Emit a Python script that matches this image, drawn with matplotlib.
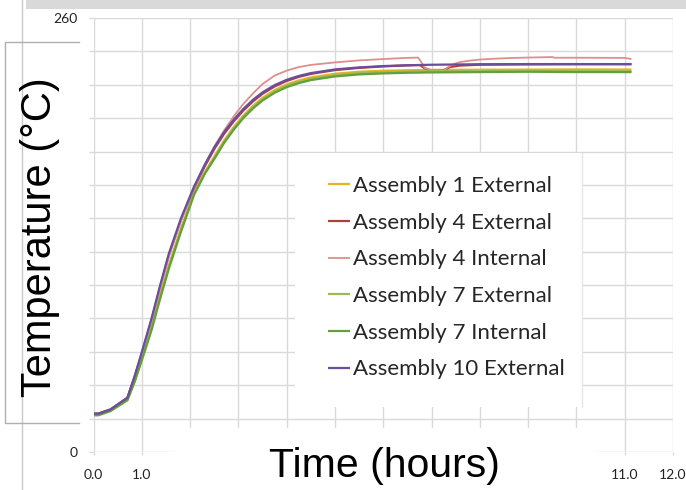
import matplotlib
matplotlib.use("Agg")
import matplotlib.pyplot as plt
from matplotlib.patches import Rectangle
from matplotlib.lines import Line2D
from matplotlib.transforms import Affine2D

W, H = 686, 490

# thermocouple readings, time in hours, temperature in deg C
t_rise = [0, 0.1, 0.35, 0.7, 0.85, 1.0, 1.2, 1.37, 1.56, 1.81, 2.08, 2.3, 2.5, 2.7, 2.9, 3.1,
          3.3, 3.5, 3.75, 4.0, 4.25, 4.5, 5.0, 5.5, 6.0, 6.5, 7.0, 8.0, 9.0, 10.0, 11.14]

temp_a1_ext = [22.5, 22.5, 25, 31.5, 43, 56.5, 75, 93, 112, 134, 155, 167.5, 177, 186.5, 194.5, 201.5,
               207.3, 212.2, 216.8, 220.2, 222.6, 224.4, 226.6, 227.8, 228.4, 228.7, 228.9, 229, 229.1, 229.2, 229.1]

temp_a7_ext = [22.3, 22.3, 24.8, 31.2, 42.5, 55.8, 74, 92, 111, 133, 154.5, 167, 176.3, 185.8, 193.8, 200.8,
               206.6, 211.4, 216, 219.4, 221.8, 223.6, 225.8, 227, 227.6, 227.9, 228.1, 228.2, 228.3, 228.2, 228.1]

temp_a7_int = [22, 22, 24.5, 31, 42, 55, 73, 91, 110, 132, 154, 166.5, 175.5, 185, 193, 200,
               205.8, 210.6, 215.2, 218.6, 221, 222.8, 225, 226.2, 226.8, 227.2, 227.4, 227.6, 227.8, 227.6, 227.6]

temp_a10_ext = [23, 23, 25.5, 32.5, 45.5, 60, 80, 99, 119, 140, 159, 172, 182.5, 191.5, 199, 205.5,
                211, 215.5, 219.8, 223, 225.3, 227, 229.2, 230.4, 231.2, 231.7, 232, 232.3, 232.4, 232.4, 232.4]

# assembly 4 readings show a dip at about 7 h
t_a4_ext = [0, 0.1, 0.35, 0.7, 0.85, 1.0, 1.2, 1.37, 1.56, 1.81, 2.08, 2.3, 2.5, 2.7, 2.9, 3.1,
            3.3, 3.5, 3.75, 4.0, 4.25, 4.5, 5.0, 5.5, 6.0, 6.5, 6.76, 6.85, 6.97, 7.1, 7.23, 7.3,
            7.38, 7.59, 8.0, 9.0, 10.0, 11.14]
temp_a4_ext = [23, 23, 25.5, 32.5, 45, 59, 79, 98, 118, 139, 158, 171, 181.5, 190.5, 198, 204.5,
               210, 214.6, 219, 222.3, 224.7, 226.5, 228.8, 230.1, 231, 231.6, 231.8, 230, 228.7, 228.4, 228.4, 229.5,
               230.6, 231.5, 232, 232.2, 232.3, 232.3]

t_a4_int = [0, 0.1, 0.35, 0.7, 0.85, 1.0, 1.2, 1.37, 1.56, 1.81, 2.08, 2.3, 2.5, 2.7, 2.9, 3.1,
            3.3, 3.5, 3.75, 4.0, 4.25, 4.5, 5.0, 5.5, 6.0, 6.4, 6.72, 6.8, 6.86, 7.0, 7.15, 7.25,
            7.34, 7.45, 7.59, 7.8, 8.0, 8.3, 8.6, 9.0, 9.5, 9.55, 10.0, 11.0, 11.14]
temp_a4_int = [23, 23, 25.5, 32.5, 44.5, 58.5, 78, 97, 117, 138.5, 158.5, 172, 183, 192.5, 201, 208.5,
               214.8, 220.5, 225.5, 228.5, 230.6, 231.9, 233.4, 234.6, 235.4, 236, 236.3, 233, 230, 228.9, 228.6, 228.6,
               230.5, 232.3, 233.6, 234.5, 235.1, 235.6, 236, 236.3, 236.6, 236.2, 236.2, 236.1, 235.4]

series = [
    ("Assembly 1 External", t_rise, temp_a1_ext, "#e6b21e", 1.6),
    ("Assembly 4 External", t_a4_ext, temp_a4_ext, "#b23f3c", 1.6),
    ("Assembly 4 Internal", t_a4_int, temp_a4_int, "#dd8f8c", 1.3),
    ("Assembly 7 External", t_rise, temp_a7_ext, "#9bbb59", 1.6),
    ("Assembly 7 Internal", t_rise, temp_a7_int, "#63a03c", 1.6),
    ("Assembly 10 External", t_rise, temp_a10_ext, "#6a4d9c", 1.6),
]

x_ticks = list(range(0, 13))
x_ticklabels = ["0.0", "1.0", "", "", "", "", "", "", "", "", "", "11.0", "12.0"]
y_ticks = list(range(0, 261, 20))
y_ticklabels = ["0"] + [""] * 12 + ["260"]

grid_col = "#d9d9d9"

fig = plt.figure(figsize=(W / 100, H / 100), dpi=100)
ax = fig.add_axes([93.6 / W, 1 - 452 / H, (673 - 93.6) / W, (452 - 18) / H])

for name, t, temp, col, lw in series:
    ax.plot(t, temp, color=col, lw=lw, label=name, solid_capstyle="butt")

ax.set_xlim(0, 12)
ax.set_ylim(0, 260)
ax.set_xticks(x_ticks)
ax.set_xticklabels(x_ticklabels)
ax.set_yticks(y_ticks)
ax.set_yticklabels(y_ticklabels)
ax.grid(True, color=grid_col, lw=1)
ax.set_axisbelow(True)
for s in ax.spines.values():
    s.set_visible(False)
ax.tick_params(axis="both", colors=grid_col, width=1, labelcolor="#222222", labelsize=10)
ax.tick_params(axis="y", length=3.6, pad=8)
ax.tick_params(axis="x", length=2.2, pad=10)
for lab in ax.get_xticklabels() + ax.get_yticklabels():
    lab.set_family("Lato")

# pixel coordinates, origin top-left
px = Affine2D().scale(1 / W, -1 / H).translate(0, 1) + fig.transFigure

# white box behind the legend
ax.add_patch(Rectangle((295, 152.7), 287, 254.3, transform=px, facecolor="white",
                       edgecolor="none", zorder=3, clip_on=False))
ax.add_line(Line2D([582, 582], [152.7, 407], transform=px, color="#e6e6e6", lw=1,
                   zorder=3, clip_on=False))

leg = ax.legend(loc="upper left", bbox_to_anchor=(328 / W, 1 - 176 / H),
                bbox_transform=fig.transFigure, frameon=False, borderpad=0,
                borderaxespad=0, handlelength=1.0, handletextpad=0.12,
                labelspacing=0.75, prop={"family": "Lato", "size": 16})
leg.set_zorder(5)
for txt in leg.get_texts():
    txt.set_color("#262626")

# outer frame line on the left and the grey strip at the top
fig.add_artist(Line2D([21.7, 21.7], [0, H], transform=px, color="#c8c8c8", lw=1))
fig.add_artist(Rectangle((26, 0), W - 26, 9, transform=px, facecolor="#d9d9d9",
                         edgecolor="none"))

# axis titles on white boxes
fig.add_artist(Rectangle((4.5, 42), 74, 381, transform=px, facecolor="white",
                         edgecolor="none"))
fig.add_artist(Line2D([78.5, 4.5, 4.5, 78.5], [42, 42, 423, 423], transform=px,
                      color="#b0b0b0", lw=1))
fig.text(40 / W, 1 - 237 / H, "Temperature (\u00b0C)", rotation=90, ha="center",
         va="center", family="Liberation Sans", fontsize=30, color="black")

fig.add_artist(Rectangle((175, 428), 419, 62, transform=px, facecolor="white",
                         edgecolor="none"))
fig.text(384 / W, 1 - 466 / H, "Time (hours)", ha="center", va="center",
         family="Liberation Sans", fontsize=29.5, color="black")

fig.savefig("out.png", dpi=100)
